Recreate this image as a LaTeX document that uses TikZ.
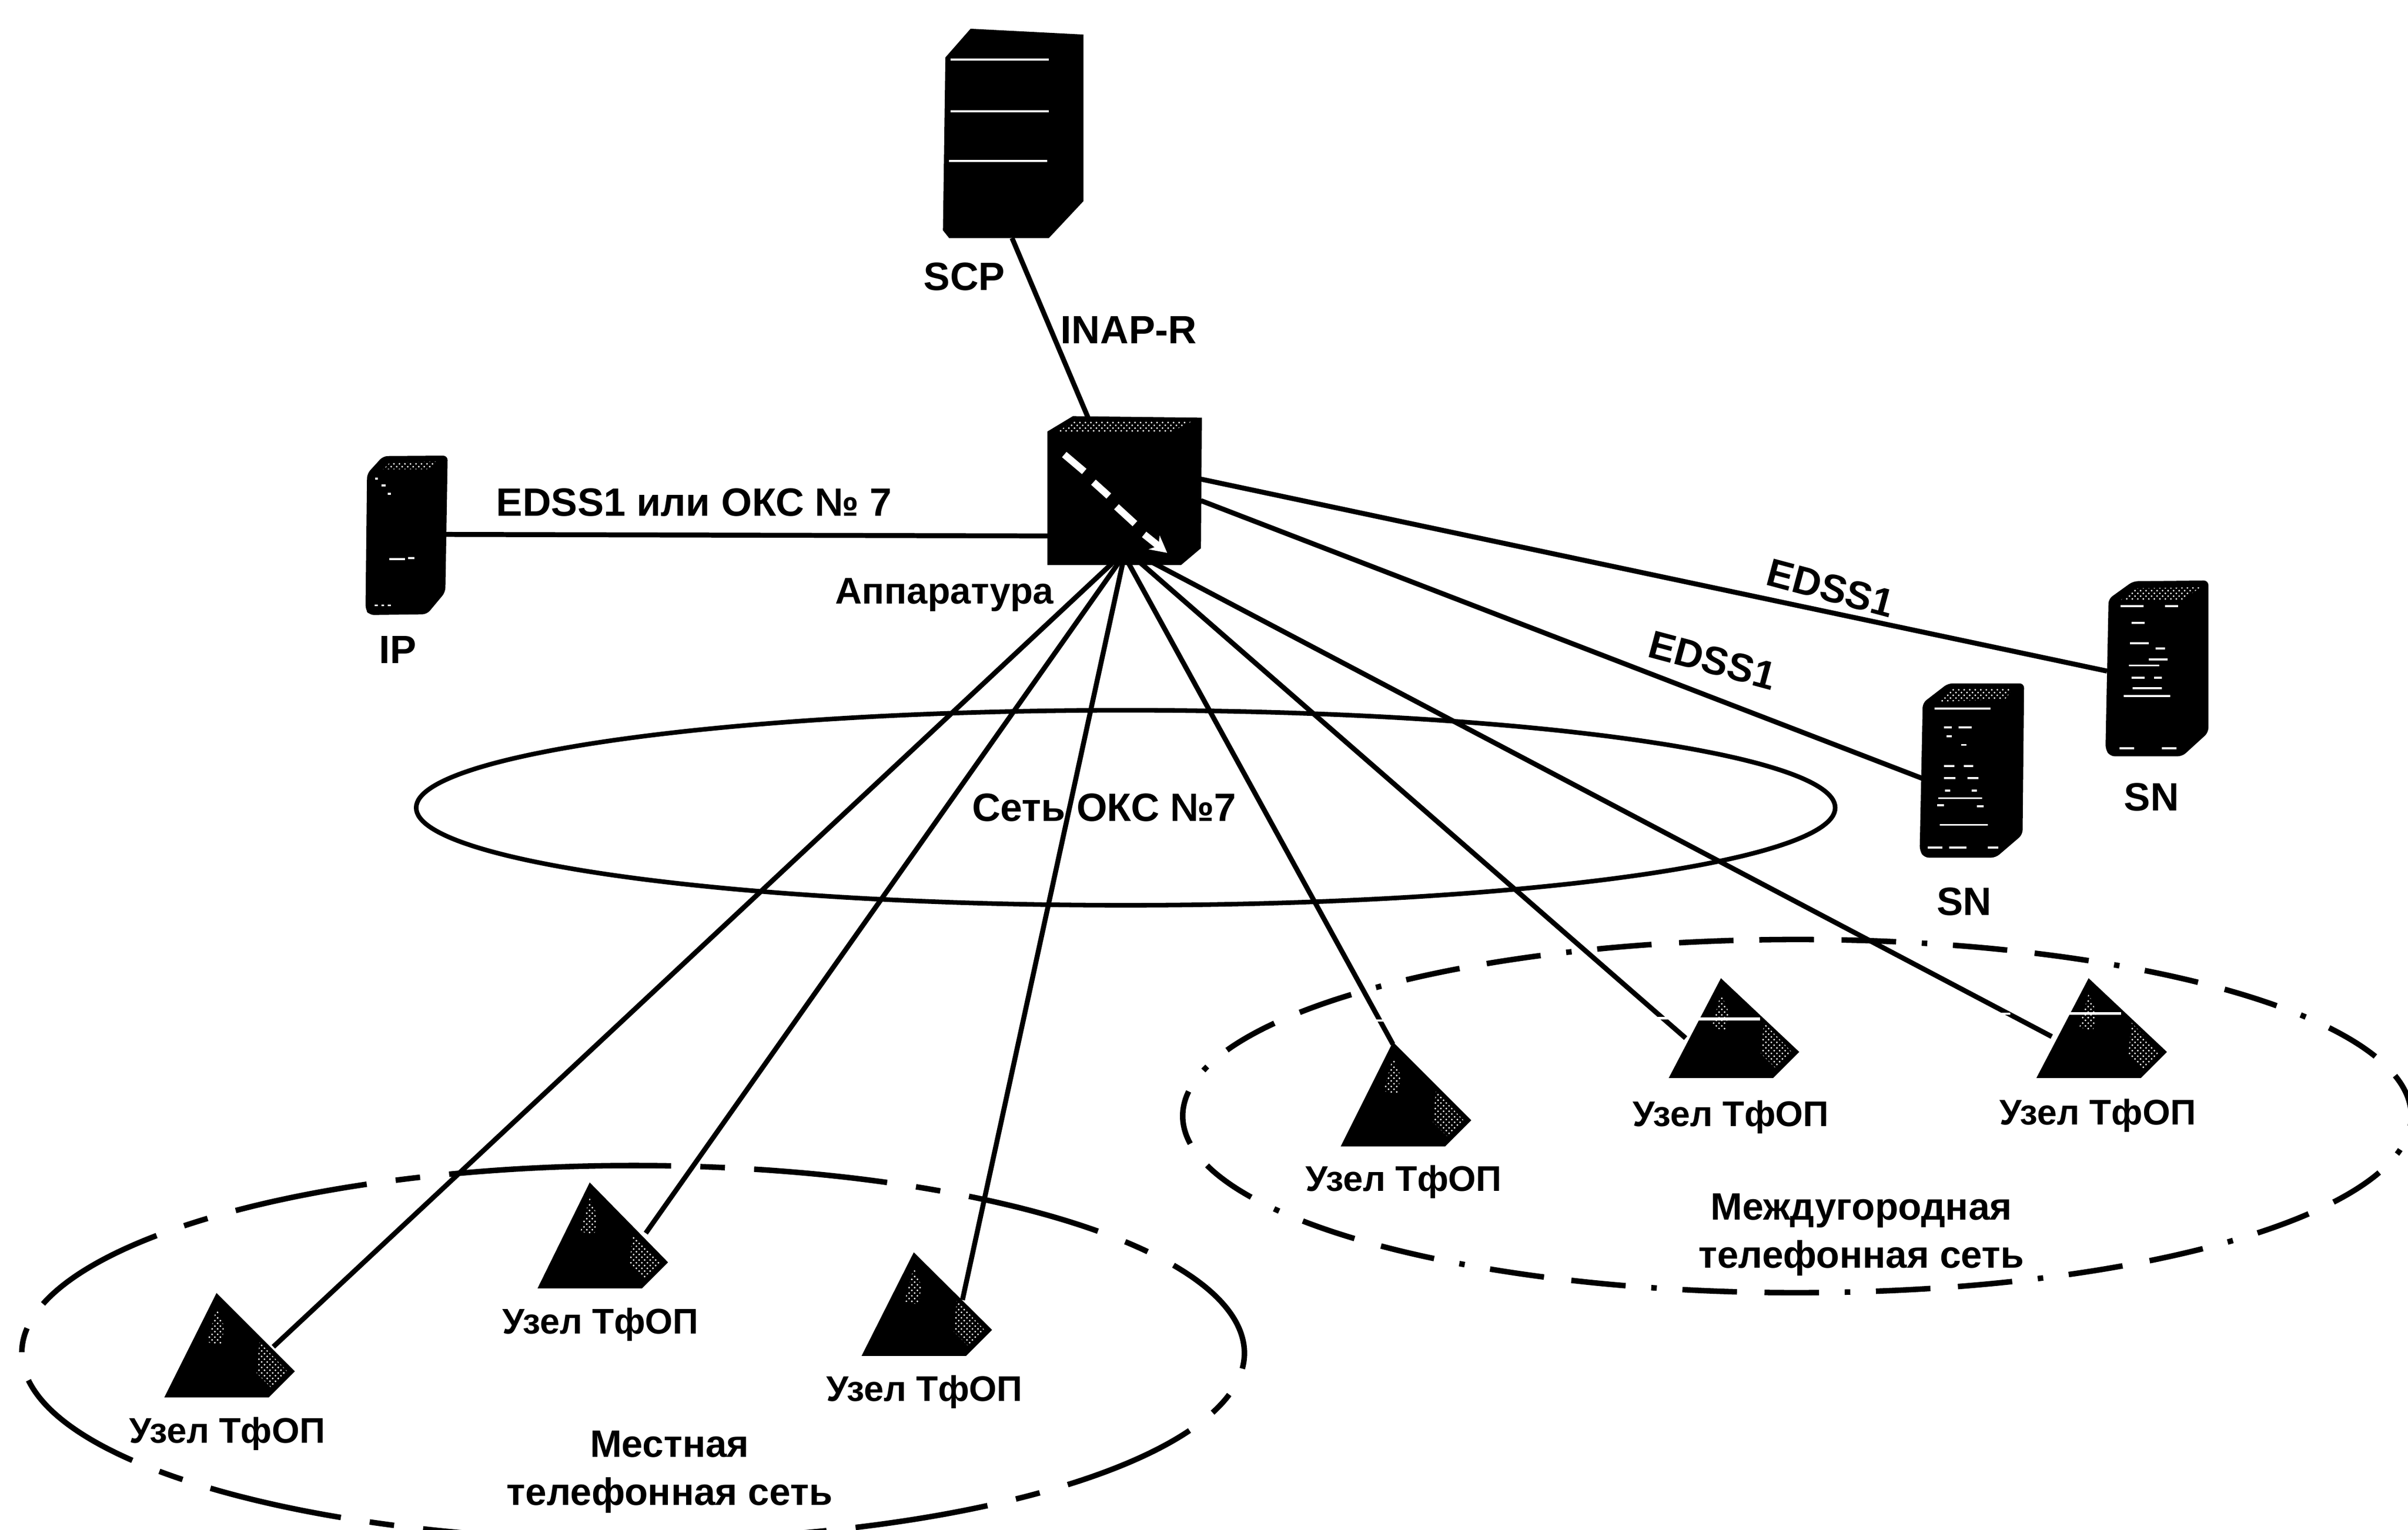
\documentclass[tikz,border=0pt]{standalone}
\usepackage{fontspec}
\setmainfont{Liberation Sans}
\usetikzlibrary{patterns,arrows.meta}
\tikzset{
  body/.style={fill=black},
  softbody/.style={fill=black,rounded corners=2.5pt},
  speck/.style={pattern=crosshatch dots,pattern color=white},
  whiteline/.style={draw=white,line width=1.1pt},
  link/.style={draw=black,line width=2.7pt},
  txt/.style={font=\bfseries\fontsize{21.5}{26}\selectfont,inner sep=0pt,text=black,align=center},
  hubtxt/.style={font=\bfseries\fontsize{20.2}{26}\selectfont,inner sep=0pt,text=black,align=center},
  nettxt/.style={font=\bfseries\fontsize{20.8}{26}\selectfont,inner sep=0pt,text=black,align=center},
  nodetxt/.style={font=\bfseries\fontsize{19.4}{24}\selectfont,inner sep=0pt,text=black,align=center},
  oks/.style={draw=black,line width=2.5pt},
  localnet/.style={draw=black,line width=3pt,dash pattern=on 72.8pt off 15.9pt on 13.4pt off 15.9pt},
  longnet/.style={draw=black,line width=3pt,dash pattern=on 29.7pt off 15pt on 29.7pt off 14pt on 3pt off 14pt},
}
\newcommand\pyramid[4]{%
  \coordinate (#1) at (#2,#3);
  \begin{scope}[shift={(#1)}]
    \fill[body] (0,0) -- (-34,#4) -- (34,#4) -- (51,{#4-17}) -- cycle;
    \fill[speck] (0,10) -- (-6,32) -- (3,34) -- (5,22) -- cycle;
    \fill[speck] (28,{#4-36}) -- (46,{#4-17}) -- (36,{#4-6}) -- (26,{#4-16}) -- cycle;
  \end{scope}}
\begin{document}
\begin{tikzpicture}[x=0.0293878cm,y=-0.0293878cm]
\path[use as bounding box,clip] (0,0) rectangle (1568,996.33);

% network outlines
\draw[oks] (733,526) ellipse [x radius=462,y radius=63.5];
\draw[localnet] (350,760.5) arc [start angle=-99,end angle=261,x radius=398,y radius=122];
\draw[longnet] (1145.7,612) arc [start angle=-93.5,end angle=266.5,x radius=400,y radius=115];

% anchors of the connectors
\coordinate (scpOut) at (659,155);
\coordinate (hubTop) at (708.5,272);
\coordinate (ipOut) at (290,348);
\coordinate (hubLeft) at (683,349);
\coordinate (hubA) at (724,367);
\coordinate (hubB) at (728,367);
\coordinate (hubC) at (731,367);
\coordinate (hubD) at (735,367);
\coordinate (hubE) at (742,366);
\coordinate (hubF) at (748,365);
\coordinate (hubG) at (782,312);
\coordinate (hubH) at (782,326);
\coordinate (snTwoIn) at (1372,437);
\coordinate (snOneIn) at (1252,507);
\coordinate (nodeAin) at (178,877);
\coordinate (nodeBin) at (420.5,803);
\coordinate (nodeCin) at (626.7,846.5);
\coordinate (nodeDin) at (907,680);
\coordinate (nodeEin) at (1097.6,676);
\coordinate (nodeFin) at (1336,675);

% connectors
\draw[link] (scpOut) -- (hubTop);
\draw[link] (ipOut) -- (hubLeft);
\draw[link] (hubA) -- (nodeAin);
\draw[link] (hubB) -- (nodeBin);
\draw[link] (hubC) -- (nodeCin);
\draw[link] (hubD) -- (nodeDin);
\draw[link] (hubE) -- (nodeEin);
\draw[link] (hubF) -- (nodeFin);
\draw[link] (hubG) -- (snTwoIn);
\draw[link] (hubH) -- (snOneIn);
% scan breaks in the connectors
\draw[white,line width=1.2pt] (894,664.6) -- (906,664.6);
\draw[white,line width=1.2pt] (1074,663) -- (1086,663);
\draw[white,line width=1.2pt] (1297,660) -- (1309,660);

% SCP
\fill[body] (615.6,37.4) -- (632,18.7) -- (705.5,22.5) -- (705.5,131) -- (683,155) -- (618,155) -- (614,150) -- cycle;
\draw[whiteline] (619,38.7) -- (683,38.7);
\draw[whiteline] (619,72.4) -- (683,72.4);
\draw[whiteline] (618,104.8) -- (682,104.8);

% switching equipment
\fill[body] (682,281) -- (698.6,271) -- (782.6,272) -- (782,357) -- (769,368) -- (682,368) -- cycle;
\fill[speck] (688,281.5) -- (699,274.5) -- (776,274.5) -- (762,281.5) -- cycle;
\draw[white,line width=3.8pt] (693,296) -- (706,307);
\draw[white,line width=3.8pt] (712,314) -- (722,323);
\draw[white,line width=3.8pt] (727,330) -- (739,341);
\draw[white,line width=3.8pt,-{Stealth[length=9pt,width=9.5pt]}] (745,348) -- (760,360);

% IP
\fill[softbody] (239,308.5) -- (249.5,297) -- (291.5,296.7) -- (290,385.6) -- (278,400) -- (240.5,400.5) -- (238,397) -- cycle;
\begin{scope}[shift={(221.2,279)},x=0.0033333cm,y=-0.0033333cm]
  \fill[speck] (250,235) -- (290,195) -- (575,190) -- (500,235) -- cycle;
  \foreach \a/\b/\c in {205/220/290,240/265/327,275/295/377,285/375/752,395/430/747,200/220/1018,240/255/1018,275/295/1018}
    \draw[whiteline] (\a,\c) -- (\b,\c);
\end{scope}

% SN (lower)
\fill[softbody] (1252,457.7) -- (1268.5,445) -- (1318,445) -- (1317,543.5) -- (1299.5,558.5) -- (1253,558.5) -- (1250,554) -- cycle;
% SN (upper)
\fill[softbody] (1373,390) -- (1389,378.5) -- (1438,378) -- (1438,477) -- (1421,492.5) -- (1374,492.5) -- (1371,488) -- cycle;
\begin{scope}[shift={(1224.9,357.3)},x=0.0051022cm,y=-0.0044662cm]
  \fill[speck] (210,655) -- (265,600) -- (495,600) -- (465,645) -- cycle;
  \fill[speck] (900,220) -- (950,170) -- (1200,165) -- (1130,220) -- cycle;
  \foreach \a/\b/\c in {200/410/685,235/265/765,290/340/765,245/265/803,300/320/840,235/275/930,310/345/930,235/280/982,325/365/982,240/260/1035,340/360/1035,215/380/1068,210/235/1098,360/385/1102,220/400/1182,175/230/1280,255/320/1280,400/440/1280,
      900/985/245,1065/1115/245,940/990/318,935/1005/405,1030/1065/428,1005/1075/475,930/1045/500,940/990/552,1025/1055/552,945/1055/598,910/1085/630,895/950/855,1055/1110/855}
    \draw[whiteline] (\a,\c) -- (\b,\c);
\end{scope}

% PSTN nodes
\pyramid{nodeA}{141}{842}{68}
\pyramid{nodeB}{384}{770}{69}
\pyramid{nodeC}{595}{815.5}{67.5}
\pyramid{nodeD}{907}{678.5}{68}
\pyramid{nodeE}{1120.6}{637}{65}
\pyramid{nodeF}{1360}{637}{65}
\draw[white,line width=1.6pt] (1105,663.5) -- (1146,663.5);
\draw[white,line width=1.6pt] (1346,660) -- (1381,660);

% labels
\node[txt] (lblScp) at (628,180) {SCP};
\node[txt] (lblInap) at (735,215) {INAP-R};
\node[txt] (lblIpLink) at (452,327) {EDSS1 или ОКС № 7};
\node[hubtxt] (lblHub) at (615,387.5) {Аппаратура};
\node[txt] (lblIp) at (259,423) {IP};
\node[txt,rotate=-15] (lblEa) at (1192,383) {EDSS1};
\node[txt,rotate=-15] (lblEb) at (1115,430) {EDSS1};
\node[txt] (lblSnA) at (1401,519) {SN};
\node[txt] (lblSnB) at (1279,587) {SN};
\node[txt] (lblOks) at (719,526) {Сеть ОКС №7};
\node[nodetxt] (lblA) at (148,933.5) {Узел ТфОП};
\node[nodetxt] (lblB) at (391,862.5) {Узел ТфОП};
\node[nodetxt] (lblC) at (602,906.5) {Узел ТфОП};
\node[nodetxt] (lblD) at (914,769.5) {Узел ТфОП};
\node[nodetxt] (lblE) at (1127,727.5) {Узел ТфОП};
\node[nodetxt] (lblF) at (1366,726.5) {Узел ТфОП};
\node[nettxt] (lblLocal) at (436,958.5) {Местная\\телефонная сеть};
\node[nettxt] (lblLong) at (1212,804) {Междугородная\\телефонная сеть};
\end{tikzpicture}
\end{document}
